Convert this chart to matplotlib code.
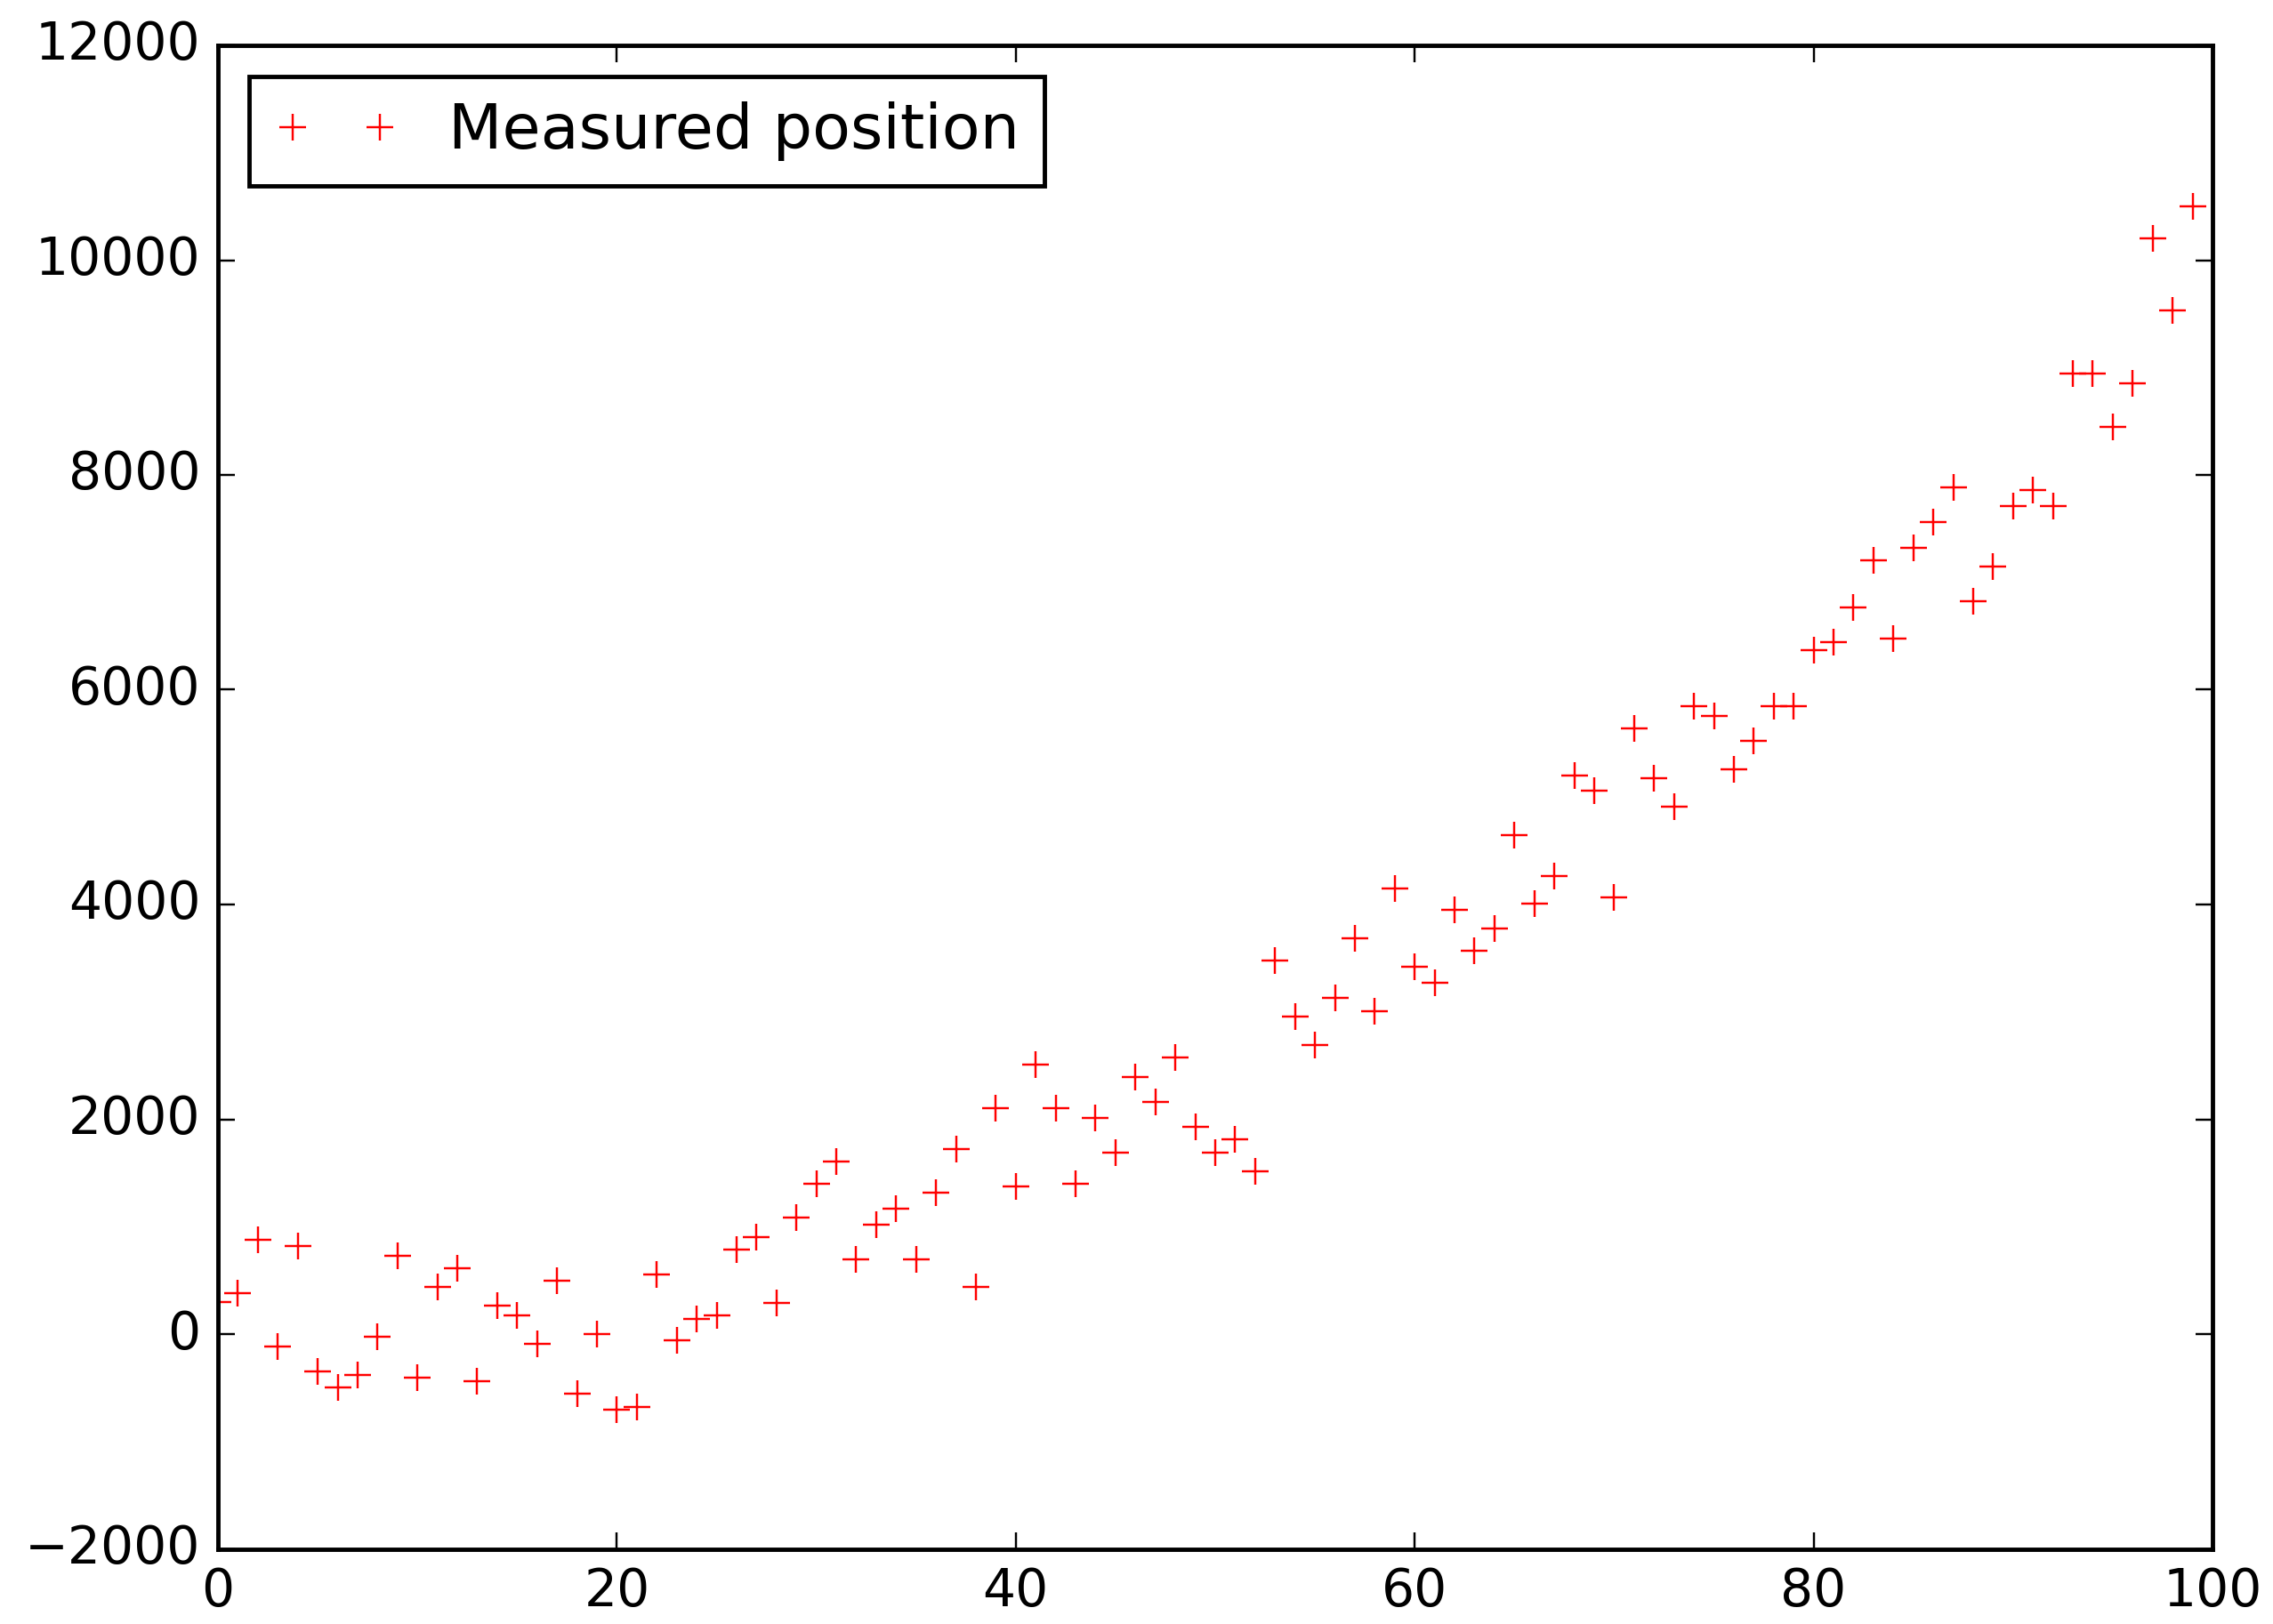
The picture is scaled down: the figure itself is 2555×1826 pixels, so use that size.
import matplotlib
matplotlib.use("Agg")
import matplotlib.pyplot as plt
import numpy as np

plt.style.use("classic")

# time index (samples)
t = list(range(100))
position = [
    295, 381, 875, -116, 817, -351, -497, -381, -28, 731,
    -409, 439, 613, -439, 265, 174, -88, 497, -555, 0,
    -704, -676, 552, -61, 144, 171, 787, 905, 290, 1082,
    1400, 1607, 698, 1021, 1168, 698, 1314, 1723, 439, 2104,
    1375, 2512, 2106, 1402, 2015, 1692, 2396, 2161, 2573, 1927,
    1692, 1814, 1518, 3478, 2954, 2688, 3127, 3683, 3009, 4152,
    3423, 3274, 3948, 3567, 3774, 4649, 4008, 4267, 5203, 5057,
    4063, 5640, 5176, 4911, 5847, 5758, 5261, 5524, 5847, 5847,
    6370, 6444, 6764, 7208, 6475, 7325, 7559, 7883, 6826, 7149,
    7707, 7858, 7707, 8943, 8943, 8444, 8854, 10203, 9529, 10502,
]
series_label = "Measured position"

W, H, DPI = 2555, 1826, 350
fig = plt.figure(figsize=(W / DPI, H / DPI), dpi=DPI, facecolor="white")
ax = fig.add_axes([245 / W, 1 - 1741.5 / H, (2487 - 245) / W, (1741.5 - 51) / H])

ax.plot(t, position, "r+", label=series_label)
ax.set_xlim(0, 100)
ax.set_ylim(-2000, 12000)
ax.set_xticks([0, 20, 40, 60, 80, 100])
ax.set_yticks(np.arange(-2000, 12001, 2000))
ax.legend(loc="upper left")

fig.savefig("out.png", dpi=DPI, facecolor="white")
